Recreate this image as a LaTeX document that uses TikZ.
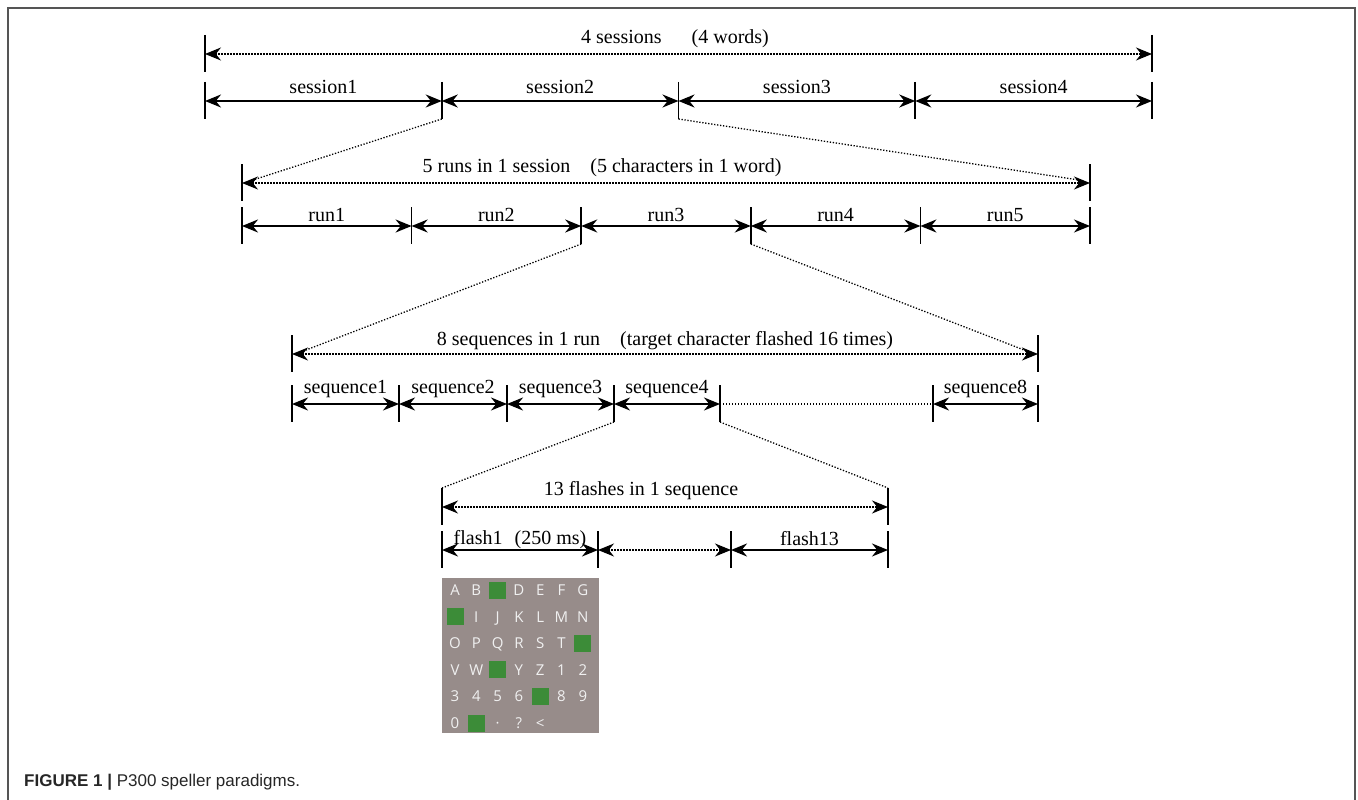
\documentclass[tikz,border=0pt]{standalone}
\usepackage{fontspec}
\setmainfont{Liberation Serif}
\newfontfamily\capfont{Liberation Sans}
\newfontfamily\keyfont{Open Sans}
\usetikzlibrary{arrows.meta}
\definecolor{boardgray}{RGB}{151,140,138}
\definecolor{boardgreen}{RGB}{60,140,56}
\definecolor{framegray}{RGB}{85,85,85}
\begin{document}
\begin{tikzpicture}[x=1pt, y=-1pt,
    every node/.style={inner sep=0pt, font=\fontsize{20}{24}\selectfont},
    tick/.style={line width=1.6pt},
    span/.style={line width=2pt, {Stealth[length=16pt,width=13pt]}-{Stealth[length=16pt,width=13pt]}},
    dotspan/.style={span, line width=1.3pt, dash pattern=on 1.3pt off 1.7pt},
    zoomline/.style={line width=1.3pt, dash pattern=on 1.3pt off 1.7pt},
    lab/.style={midway, anchor=base, yshift=#1},
    key/.style={font=\keyfont\fontsize{15}{17}\selectfont, text=white!94!black,
        text height=11pt, text depth=0pt},
    lit/.style={fill=boardgreen, minimum size=17pt}]
    \useasboundingbox (0,0) rectangle (1358,800);
    \draw[framegray, line width=1.5pt] (8,800) -- (8,8) -- (1355,8) -- (1355,800);
    \def \up {19pt}
    \def \dn {18pt}
    % sessions
    \coordinate (allses-l) at (205,54);
    \coordinate (allses-r) at (1152,54);
    \foreach \i [count=\k] in {205,441.75,678.5,915.25,1152}
        \coordinate (ses\k) at (\i,101);
    % runs
    \coordinate (allrun-l) at (242,183);
    \coordinate (allrun-r) at (1090,183);
    \foreach \i [count=\k] in {242,411.6,581.2,750.8,920.4,1090}
        \coordinate (run\k) at (\i,226);
    % sequences
    \coordinate (allseq-l) at (292,354);
    \coordinate (allseq-r) at (1038,354);
    \foreach \i [count=\k] in {292,399,507,614,720}
        \coordinate (seq\k) at (\i,404);
    \coordinate (seq8a) at (933,404);
    \coordinate (seq8b) at (1038,404);
    % flashes
    \coordinate (allfl-l) at (442,507);
    \coordinate (allfl-r) at (888,507);
    \foreach \i [count=\k] in {442,598,731,888}
        \coordinate (fl\k) at (\i,550);
    \foreach \n in {allses-l,allses-r,ses1,ses2,ses3,ses4,ses5,allrun-l,allrun-r,
        run1,run2,run3,run4,run5,run6,allseq-l,allseq-r,seq1,seq2,seq3,seq4,seq5,
        seq8a,seq8b,allfl-l,allfl-r,fl1,fl2,fl3,fl4}
        \draw[tick] ([yshift=\up]\n) -- ([yshift=-\dn]\n);
    \node[anchor=base] (sestitle) at (675,44) {4 sessions\hspace{1.5em}(4 words)};
    \draw[dotspan] (allses-l) -- (allses-r);
    \foreach \a/\b in {1/2,2/3,3/4,4/5}
        \draw[span] (ses\a) -- node[lab=8pt] (seslab\a) {session\a} (ses\b);
    \draw[zoomline] ([yshift=-\dn]ses2) -- ([xshift=11pt,yshift=3pt]allrun-l);
    \draw[zoomline] ([yshift=-\dn]ses3) -- ([xshift=-11pt,yshift=3pt]allrun-r);
    \node[anchor=base] (runtitle) at (602,172) {5 runs in 1 session\hspace{1em}(5 characters in 1 word)};
    \draw[dotspan] (allrun-l) -- (allrun-r);
    \foreach \a/\b in {1/2,2/3,3/4,4/5,5/6}
        \draw[span] (run\a) -- node[lab=4.5pt] (runlab\a) {run\a} (run\b);
    \draw[zoomline] ([yshift=-\dn]run3) -- ([xshift=14pt,yshift=4pt]allseq-l);
    \draw[zoomline] ([yshift=-\dn]run4) -- ([xshift=-14pt,yshift=4pt]allseq-r);
    \node[anchor=base] (seqtitle) at (665,345) {8 sequences in 1 run\hspace{1em}(target character flashed 16 times)};
    \draw[dotspan] (allseq-l) -- (allseq-r);
    \foreach \a/\b in {1/2,2/3,3/4,4/5}
        \draw[span] (seq\a) -- node[lab=11pt] (seqlab\a) {sequence\a} (seq\b);
    \draw[zoomline] (seq5) -- (seq8a);
    \draw[span] (seq8a) -- node[lab=11pt] (seqlab8) {sequence8} (seq8b);
    \draw[zoomline] ([yshift=-\dn]seq4) -- ([yshift=\up]allfl-l);
    \draw[zoomline] ([yshift=-\dn]seq5) -- ([yshift=\up]allfl-r);
    \node[anchor=base] (fltitle) at (641,495) {13 flashes in 1 sequence};
    \draw[dotspan] (allfl-l) -- (allfl-r);
    \draw[span] (fl1) -- node[lab=6pt] (fllab1) {flash1\hspace{0.6em}(250 ms)} (fl2);
    \draw[dotspan] (fl2) -- (fl3);
    \draw[span] (fl3) -- node[lab=5pt] (fllab13) {flash13} (fl4);
    % speller board
    \fill[boardgray] (442,578) rectangle (599,733);
    \foreach \row [count=\j from 0] in {{A,B,+,D,E,F,G},{+,I,J,K,L,M,N},{O,P,Q,R,S,T,+},
        {V,W,+,Y,Z,1,2},{3,4,5,6,+,8,9},{0,+,·,?,<}}
        \foreach \c [count=\i from 0] in \row {
            \if\c+
                \node[lit] (key\i-\j) at ({455+21.3*\i},{590+26.6*\j}) {};
            \else
                \node[key] (key\i-\j) at ({455+21.3*\i},{590+26.6*\j}) {\c};
            \fi
        }
    \node[anchor=west, font=\capfont\fontsize{17}{20}\selectfont, text=black!85] (caption) at (24,782)
        {\textbf{FIGURE 1 |} P300 speller paradigms.};
\end{tikzpicture}
\end{document}
